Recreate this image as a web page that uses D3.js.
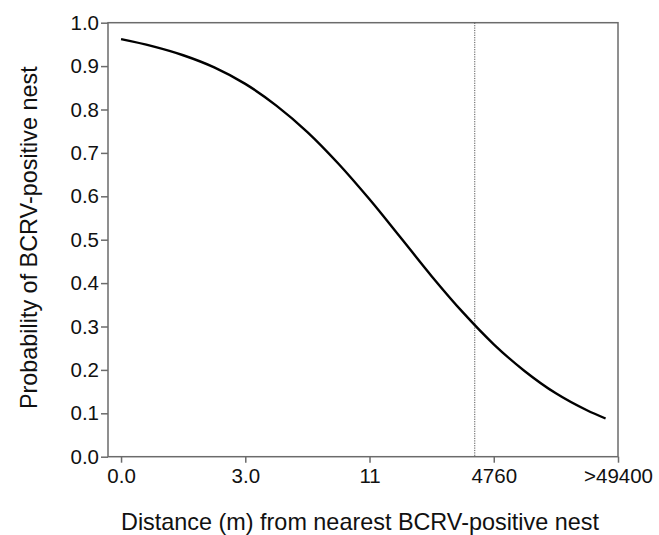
<!DOCTYPE html>
<html>
<head>
<meta charset="utf-8">
<script src="https://cdn.jsdelivr.net/npm/d3@7"></script>
<style>
  body { margin: 0; background: #fff; }
  text { font-family: "Liberation Sans", Arial, sans-serif; fill: #111; }
</style>
</head>
<body>
<svg></svg>
<script>
var width = 659, height = 535;
var margin = {top: 22.7, right: 41, bottom: 78.3, left: 108};

// x categories are equally spaced positions
var xLabels = ["0.0", "3.0", "11", "4760", ">49400"];
var xTicks = [0, 1, 2, 3, 4];
var yTicks = d3.range(0, 11).map(function (d) { return d / 10; });

// fitted probability curve (position on x, probability)
var curvePos = [0, 0.25, 0.5, 0.75, 1.0, 1.25, 1.5, 1.75, 2.0, 2.25, 2.5, 2.75, 3.0, 3.25, 3.5, 3.75, 3.9];
var curveProb = [0.962, 0.946, 0.925, 0.897, 0.859, 0.809, 0.748, 0.675, 0.593, 0.505, 0.416, 0.333, 0.259, 0.197, 0.146, 0.107, 0.088];

// vertical reference line position
var refLine = 2.847;

var svg = d3.select("svg")
    .attr("width", width)
    .attr("height", height);

var iw = width - margin.left - margin.right,
    ih = height - margin.top - margin.bottom;

var x = d3.scaleLinear().domain([-0.105, 4.0]).range([0, iw]);
var y = d3.scaleLinear().domain([0, 1]).range([ih, 0]);

var g = svg.append("g")
    .attr("transform", "translate(" + margin.left + "," + margin.top + ")");

var axisColor = "#6b6b6b";

//frame
g.append("rect")
    .attr("width", iw)
    .attr("height", ih)
    .attr("fill", "none")
    .attr("stroke", axisColor)
    .attr("stroke-width", 1.5);

var yAxis = g.append("g")
    .call(d3.axisLeft(y).tickValues(yTicks).tickFormat(d3.format(".1f")).tickSize(7).tickSizeOuter(0).tickPadding(2));

var xAxis = g.append("g")
    .attr("transform", "translate(0," + ih + ")")
    .call(d3.axisBottom(x).tickValues(xTicks).tickFormat(function (d, i) { return xLabels[i]; })
        .tickSize(6).tickSizeOuter(0).tickPadding(6));

[xAxis, yAxis].forEach(function (a) {
    a.select(".domain").remove();
    a.selectAll(".tick line").attr("stroke", axisColor).attr("stroke-width", 1.5);
    a.selectAll(".tick text")
        .style("font-family", "'Liberation Sans', Arial, sans-serif")
        .style("font-size", "20.5px")
        .attr("fill", "#111");
});

// dotted reference line
g.append("line")
    .attr("x1", x(refLine)).attr("x2", x(refLine))
    .attr("y1", 0).attr("y2", ih)
    .attr("stroke", "#555")
    .attr("stroke-width", 1)
    .attr("stroke-dasharray", "1.2,1.2");

var line = d3.line()
    .curve(d3.curveMonotoneX)
    .x(function (d) { return x(d[0]); })
    .y(function (d) { return y(d[1]); });

g.append("path")
    .datum(d3.zip(curvePos, curveProb))
    .attr("fill", "none")
    .attr("stroke", "#000")
    .attr("stroke-width", 2.4)
    .attr("d", line);

// axis titles
svg.append("text")
    .attr("x", 360)
    .attr("y", 530)
    .attr("text-anchor", "middle")
    .style("font-size", "23.4px")
    .text("Distance (m) from nearest BCRV-positive nest");

svg.append("text")
    .attr("transform", "translate(37," + (margin.top + ih / 2 - 2) + ") rotate(-90)")
    .attr("text-anchor", "middle")
    .style("font-size", "23.4px")
    .text("Probability of BCRV-positive nest");
</script>
</body>
</html>
